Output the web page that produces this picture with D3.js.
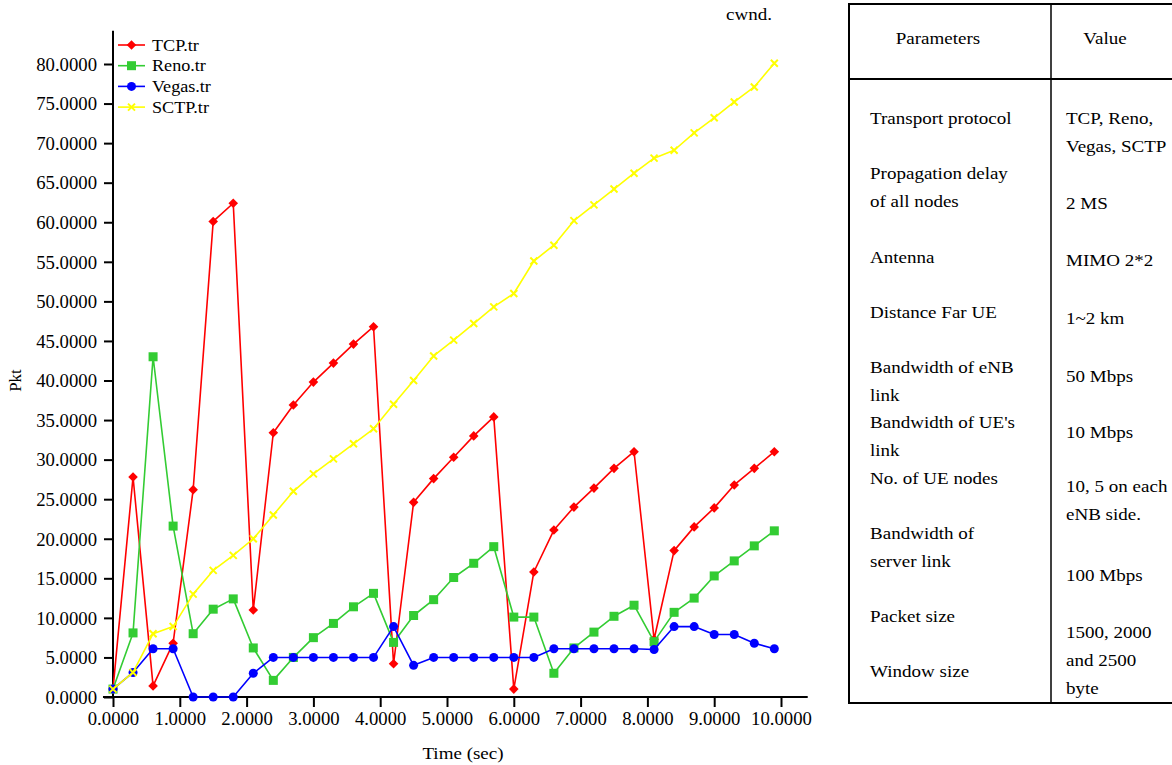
<!DOCTYPE html>
<html>
<head>
<meta charset="utf-8">
<script src="https://cdn.jsdelivr.net/npm/d3@7/dist/d3.min.js"></script>
<style>
  html, body { margin: 0; padding: 0; background: #fff; }
  svg { display: block; font-family: "Liberation Serif", "DejaVu Serif", serif; }
</style>
</head>
<body>
<svg id="chart" width="1172" height="765"></svg>
<script>
// Sampling times (sec), one sample every 0.3 s
const times = [0.0, 0.3, 0.6, 0.9, 1.2, 1.5, 1.8, 2.1, 2.4, 2.7, 3.0, 3.3, 3.6, 3.9, 4.2, 4.5, 4.8,
  5.1, 5.4, 5.7, 6.0, 6.3, 6.6, 6.9, 7.2, 7.5, 7.8, 8.1, 8.4, 8.7, 9.0, 9.3, 9.6, 9.9];

// Congestion window (packets) per trace
const tcpValues = [1.0, 27.8, 1.4, 6.8, 26.2, 60.1, 62.4, 11.0, 33.4, 36.9, 39.8, 42.2, 44.6, 46.8,
  4.2, 24.6, 27.6, 30.3, 33.0, 35.4, 1.0, 15.8, 21.1, 24.0, 26.4, 28.9, 31.0, 7.3, 18.5, 21.5,
  23.9, 26.8, 28.9, 31.0];
const renoValues = [1.0, 8.1, 43.0, 21.6, 8.0, 11.1, 12.4, 6.2, 2.1, 5.0, 7.5, 9.3, 11.4, 13.1,
  6.9, 10.3, 12.3, 15.1, 16.9, 19.0, 10.1, 10.1, 3.0, 6.2, 8.2, 10.2, 11.6, 7.0, 10.7, 12.5,
  15.3, 17.2, 19.1, 21.0];
const vegasValues = [1.0, 3.1, 6.1, 6.1, 0.0, 0.0, 0.0, 3.0, 5.0, 5.0, 5.0, 5.0, 5.0, 5.0,
  8.9, 4.0, 5.0, 5.0, 5.0, 5.0, 5.0, 5.0, 6.1, 6.1, 6.1, 6.1, 6.1, 6.0, 8.9, 8.9,
  7.9, 7.9, 6.8, 6.1];
const sctpValues = [1.0, 3.1, 8.0, 8.9, 13.0, 16.0, 17.9, 20.0, 23.0, 26.0, 28.2, 30.1, 32.0, 33.9,
  37.0, 40.0, 43.1, 45.1, 47.2, 49.3, 51.0, 55.1, 57.1, 60.2, 62.2, 64.2, 66.2, 68.1, 69.1, 71.3,
  73.2, 75.2, 77.1, 80.1];

const seriesNames = ["TCP.tr", "Reno.tr", "Vegas.tr", "SCTP.tr"];
const seriesColors = ["#ff0000", "#33cc33", "#0000ff", "#ffff00"];
const seriesMarkers = ["diamond", "square", "circle", "cross"];

const xTicks = [0, 1, 2, 3, 4, 5, 6, 7, 8, 9, 10];
const yTicks = [0, 5, 10, 15, 20, 25, 30, 35, 40, 45, 50, 55, 60, 65, 70, 75, 80];

// Parameter table lines: [text, vertical centre]
const paramLines = [
  ["Transport protocol", 118], ["Propagation delay", 173], ["of all nodes", 201],
  ["Antenna", 257], ["Distance Far UE", 312], ["Bandwidth of eNB", 367], ["link", 395],
  ["Bandwidth of UE's", 422], ["link", 450], ["No. of UE nodes", 478],
  ["Bandwidth of", 533], ["server link", 561], ["Packet size", 616], ["Window size", 671]
];
const valueLines = [
  ["TCP, Reno,", 118], ["Vegas, SCTP", 146], ["2 MS", 203], ["MIMO 2*2", 260],
  ["1~2 km", 318], ["50 Mbps", 376], ["10 Mbps", 432], ["10, 5 on each", 486],
  ["eNB side.", 514], ["100 Mbps", 575], ["1500, 2000", 632], ["and 2500", 660], ["byte", 688]
];

const allSeries = [tcpValues, renoValues, vegasValues, sctpValues].map((vals, i) => ({
  name: seriesNames[i],
  color: seriesColors[i],
  marker: seriesMarkers[i],
  points: times.map((t, j) => ({ t, v: vals[j] }))
}));

const svg = d3.select("#chart");
const WIDE = 1.12; // slightly widened serif lettering

const x = d3.scaleLinear().domain([0, 10]).range([113, 781]);
const y = d3.scaleLinear().domain([0, 80]).range([697, 64]);

// Axes
const xAxis = d3.axisBottom(x).tickValues(xTicks).tickSize(10).tickSizeOuter(0)
  .tickFormat(d3.format(".4f"));
const yAxis = d3.axisLeft(y).tickValues(yTicks).tickSize(9).tickSizeOuter(0)
  .tickFormat(d3.format(".4f"));

const gx = svg.append("g").attr("transform", `translate(0,${y(0)})`).call(xAxis);
const gy = svg.append("g").attr("transform", `translate(${x(0)},0)`).call(yAxis);

[gx, gy].forEach(g => {
  g.select(".domain").remove();
  g.selectAll(".tick line").attr("stroke", "#000").attr("stroke-width", 2);
  g.selectAll(".tick text").attr("fill", "#000").style("font-size", "18px")
    .style("font-family", "'Liberation Serif', serif");
});
gx.selectAll(".tick text").attr("y", 0).attr("dy", 0)
  .attr("transform", "translate(0,28) scale(1.04,1)");
gy.selectAll(".tick text").attr("x", 0).attr("dy", "0.35em")
  .attr("transform", "translate(-16,0) scale(1.04,1)");

// Axis lines (extend beyond the last tick)
svg.append("line").attr("x1", x(0)).attr("x2", x(0)).attr("y1", y(84.2)).attr("y2", y(0) + 1)
  .attr("stroke", "#000").attr("stroke-width", 2);
svg.append("line").attr("x1", x(-0.15)).attr("x2", x(10.4)).attr("y1", y(0)).attr("y2", y(0))
  .attr("stroke", "#000").attr("stroke-width", 2);

// Axis titles
function wideText(parent, tx, ty, str, size, anchor) {
  return parent.append("text")
    .attr("transform", `translate(${tx},${ty}) scale(${WIDE},1)`)
    .attr("text-anchor", anchor || "start")
    .style("font-size", size + "px").text(str);
}
wideText(svg, 463, 759, "Time (sec)", 17, "middle");
svg.append("text").attr("transform", `translate(21,${y(40)}) rotate(-90)`)
  .attr("text-anchor", "middle").style("font-size", "17px").text("Pkt");
wideText(svg, 749, 20, "cwnd.", 17, "middle");

// Marker shapes
function drawMarker(sel, type, color) {
  if (type === "diamond") {
    sel.append("path").attr("d", "M0,-4.8L4.8,0L0,4.8L-4.8,0Z").attr("fill", color);
  } else if (type === "square") {
    sel.append("rect").attr("x", -4.5).attr("y", -4.5).attr("width", 9).attr("height", 9).attr("fill", color);
  } else if (type === "circle") {
    sel.append("circle").attr("r", 4.5).attr("fill", color);
  } else {
    sel.append("path").attr("d", "M-3.5,-3.5L3.5,3.5M-3.5,3.5L3.5,-3.5")
      .attr("stroke", color).attr("stroke-width", 2).attr("fill", "none");
  }
}

const line = d3.line().x(d => x(d.t)).y(d => y(d.v));

const plot = svg.append("g");
allSeries.forEach(s => {
  const g = plot.append("g");
  g.append("path").datum(s.points).attr("d", line).attr("fill", "none")
    .attr("stroke", s.color).attr("stroke-width", 1.6).attr("stroke-linejoin", "round");
  g.selectAll("g.pt").data(s.points).join("g").attr("class", "pt")
    .attr("transform", d => `translate(${x(d.t)},${y(d.v)})`)
    .each(function () { drawMarker(d3.select(this), s.marker, s.color); });
});

// Legend
const legend = svg.append("g").attr("transform", "translate(118,45)");
allSeries.forEach((s, i) => {
  const row = legend.append("g").attr("transform", `translate(0,${i * 20.7})`);
  row.append("line").attr("x1", 0).attr("x2", 27).attr("stroke", s.color).attr("stroke-width", 1.6);
  const m = row.append("g").attr("transform", "translate(13.5,0)");
  drawMarker(m, s.marker, s.color);
  row.append("text").attr("transform", `translate(34,0) scale(1.1,1)`).attr("dy", "0.35em")
    .style("font-size", "16.5px").text(s.name);
});

// Parameter table
const table = svg.append("g");
table.append("rect").attr("x", 849).attr("y", 4).attr("width", 330).attr("height", 699)
  .attr("fill", "none").attr("stroke", "#000").attr("stroke-width", 2);
table.append("line").attr("x1", 1051).attr("x2", 1051).attr("y1", 4).attr("y2", 703)
  .attr("stroke", "#000").attr("stroke-width", 1.5);
table.append("line").attr("x1", 849).attr("x2", 1172).attr("y1", 79).attr("y2", 79)
  .attr("stroke", "#000").attr("stroke-width", 2);
wideText(table, 938, 44, "Parameters", 17, "middle");
wideText(table, 1105, 44, "Value", 17, "middle");
paramLines.forEach(d => wideText(table, 870, d[1] + 6, d[0], 17));
valueLines.forEach(d => wideText(table, 1066, d[1] + 6, d[0], 17));
</script>
</body>
</html>
